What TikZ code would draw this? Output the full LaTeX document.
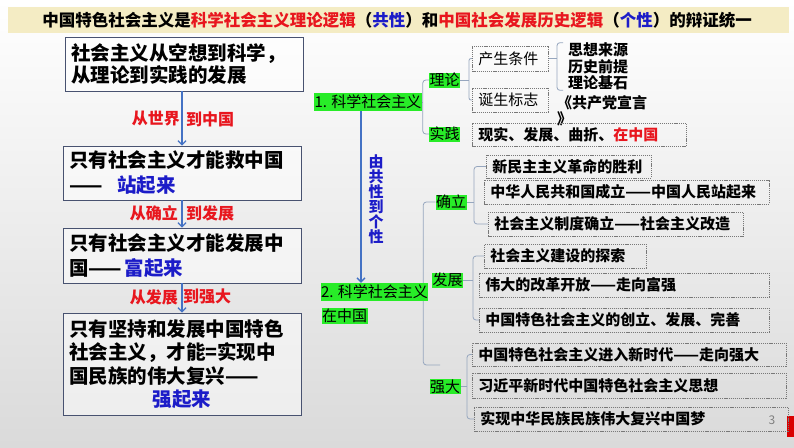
\documentclass[tikz,border=0pt]{standalone}
\usepackage{fontspec}
\setmainfont{Noto Sans CJK SC}
\usetikzlibrary{arrows.meta,calc}
\definecolor{tred}{RGB}{232,22,30}
\definecolor{tblue}{RGB}{28,28,200}
\definecolor{tgreen}{RGB}{40,236,40}
\definecolor{banner}{RGB}{244,236,196}
\definecolor{lboxc}{RGB}{72,82,112}
\definecolor{arrc}{RGB}{68,114,196}
\definecolor{brc}{RGB}{150,166,190}
\definecolor{dashc}{RGB}{120,120,120}
\pgfdeclarelayer{back}
\pgfdeclarelayer{bg}
\pgfsetlayers{back,bg,main}
\tikzset{
  lbox/.style={draw=lboxc, line width=0.8pt, fill=white, fill opacity=0.5, text opacity=1,
    align=left, inner xsep=6pt, inner ysep=0pt, minimum width=238pt},
  alab/.style={text=tred, inner sep=0pt, font=\bfseries\fontsize{16}{18}\selectfont},
  arr/.style={draw=arrc, line width=1.3pt, -{Straight Barb[length=4pt,width=8pt]}},
  glab/.style={fill=tgreen, inner xsep=0.5pt, inner ysep=0pt, minimum height=15pt,
    font=\fontsize{15}{16}\selectfont},
  dbox/.style={draw=dashc, line width=0.6pt, dash pattern=on 1.2pt off 0.9pt, anchor=west,
    align=left, inner xsep=6pt, inner ysep=0pt, font=\bfseries\fontsize{15}{16}\selectfont},
  br/.style={draw=brc, line width=0.8pt},
}
\begin{document}
\begin{tikzpicture}[x=1pt,y=-1pt]
\useasboundingbox (0,0) rectangle (794,447);
\begin{pgfonlayer}{back}
\shade[top color=white, bottom color={rgb,255:red,218;green,218;blue,218}] (0,0) rectangle (794,447);
\fill[banner] (8,7) rectangle (789,33);
\fill[red!85!black] (787,416) rectangle (794,437);
\end{pgfonlayer}

% title
\node[inner sep=0pt, font=\bfseries\fontsize{16.5}{18}\selectfont] (title) at (397,20)
  {中国特色社会主义是\textcolor{tred}{科学社会主义理论逻辑}（\textcolor{tblue}{共性}）和\textcolor{tred}{中国社会发展历史逻辑}（\textcolor{tblue}{个性}）的辩证统一};

% left column
\node[lbox, minimum height=54pt, text width=226pt, font=\bfseries\fontsize{19.5}{22}\selectfont] (b1) at (184,64)
  {社会主义从空想到科学，\\从理论到实践的发展};
\node[lbox, minimum height=54pt, text width=226pt, font=\bfseries\fontsize{19.5}{25}\selectfont] (b2) at (182,173)
  {只有社会主义才能救中国\\——\hspace{15pt}\textcolor{tblue}{站起来}};
\node[lbox, minimum height=55pt, text width=226pt, font=\bfseries\fontsize{19.5}{25}\selectfont] (b3) at (182,255.5)
  {只有社会主义才能发展中\\国——\hspace{3pt}\textcolor{tblue}{富起来}};
\node[lbox, minimum height=102pt, text width=226pt, font=\bfseries\fontsize{19.5}{23.5}\selectfont] (b4) at (182,364)
  {只有坚持和发展中国特色\\社会主义，才能=实现中\\国民族的伟大复兴——\\\makebox[226pt][c]{\textcolor{tblue}{强起来}}};

\draw[arr] (b1.south -| b2.north) -- (b2.north);
\draw[arr] (b2.south) -- (b3.north);
\draw[arr] (b3.south) -- (b4.north);
\node[alab, anchor=east] (l1a) at (180,119) {从世界};
\node[alab, anchor=west] (l1b) at (186,119) {到中国};
\node[alab, anchor=east] (l2a) at (178,213) {从确立};
\node[alab, anchor=west] (l2b) at (186,213) {到发展};
\node[alab, anchor=east] (l3a) at (178,297) {从发展};
\node[alab, anchor=west] (l3b) at (183,297) {到强大};

% middle
\node[glab, minimum height=18pt] (n1) at (368,102) {1. 科学社会主义};
\node[glab] (ll) at (444.5,80) {理论};
\node[glab] (sj) at (444.5,134) {实践};
\node[glab, minimum height=18pt] (n2) at (374.5,292) {2. 科学社会主义};
\node[glab, minimum height=16pt] (n2b) at (344.5,316) {在中国};
\node[text=tblue, align=center, inner sep=0pt, font=\bfseries\fontsize{15}{15}\selectfont] (gx) at (376,199.5)
  {由\\共\\性\\到\\个\\性};
\draw[arr] ([xshift=-7pt]n1.south) -- ([xshift=-7pt]n1.south |- n2.north);

% theory branch
\node[dbox, minimum width=76pt, minimum height=25pt, text width=64pt, font=\fontsize{15}{16}\selectfont] (cs) at (472,58.5) {产生条件};
\node[dbox, minimum width=76pt, minimum height=24pt, text width=64pt, font=\fontsize{15}{16}\selectfont] (dz) at (472,100) {诞生标志};
\node[align=left, inner xsep=5pt, inner ysep=0pt, anchor=west, font=\bfseries\fontsize{15}{16.5}\selectfont] (yl) at (563,66.5)
  {思想来源\\历史前提\\理论基石};
\node[align=left, inner sep=0pt, anchor=west, font=\bfseries\fontsize{15}{16}\selectfont] (xy) at (557,111)
  {《共产党宣言\\》};
\node[dbox, minimum width=214pt, minimum height=23pt, text width=202pt] (sjb) at (472,134.5)
  {现实、发展、曲折、\textcolor{tred}{在中国}};

% 确立
\node[glab] (ql) at (451,202) {确立};
\node[dbox, minimum width=165pt, minimum height=23pt, text width=153pt] (q1) at (486,166.5) {新民主主义革命的胜利};
\node[dbox, minimum width=285pt, minimum height=24pt, text width=273pt] (q2) at (484,192) {中华人民共和国成立——中国人民站起来};
\node[dbox, minimum width=255pt, minimum height=24pt, text width=243pt] (q3) at (488,224) {社会主义制度确立——社会主义改造};

% 发展
\node[glab] (fl) at (447.5,280) {发展};
\node[dbox, minimum width=162pt, minimum height=24pt, text width=150pt] (f1) at (484,256) {社会主义建设的探索};
\node[dbox, minimum width=290pt, minimum height=24pt, text width=278pt] (f2) at (479,285) {伟大的改革开放——走向富强};
\node[dbox, minimum width=290pt, minimum height=24pt, text width=278pt] (f3) at (479,320) {中国特色社会主义的创立、发展、完善};

% 强大
\node[glab] (sl) at (445,386.5) {强大};
\node[dbox, minimum width=314pt, minimum height=23pt, text width=302pt] (s1) at (472,354.5) {中国特色社会主义进入新时代——走向强大};
\node[dbox, minimum width=314pt, minimum height=25pt, text width=302pt] (s2) at (472,385.5) {习近平新时代中国特色社会主义思想};
\node[dbox, minimum width=314pt, minimum height=24pt, text width=302pt] (s3) at (474,419) {实现中华民族民族伟大复兴中国梦};

\node[text=gray, inner sep=0pt, font=\fontsize{12}{12}\selectfont] (pg) at (772,420) {3};

% brackets
\begin{pgfonlayer}{bg}
\path (ll.west) ++(-6,0) coordinate (n1v);
\draw[br, rounded corners=3pt] (ll.west) -- (n1v) |- (sj.west);
\draw[br] (n1.east) -- (n1.east -| n1v);

\path (cs.west) ++(-3,0) coordinate (llv);
\draw[br, rounded corners=2pt] (cs.west) -- (llv) |- (dz.west);
\draw[br] (ll.east) -- (ll.east -| llv);

\path (yl.west) ++(-6,0) coordinate (ylv);
\draw[br, rounded corners=3pt] (yl.north west) -- (yl.north west -| ylv) |- (yl.south west);
\draw[br] (cs.east) -- (cs.east -| ylv);

\path (q1.west) ++(-12,0) coordinate (qv);
\draw[br, rounded corners=3pt] (q1.west) -- (qv) |- (q3.west);
\draw[br] (ql.east) -- (ql.east -| qv);

\path (f1.west) ++(-11,0) coordinate (fv);
\draw[br, rounded corners=3pt] (f1.west) -- (fv) |- (f3.west);
\draw[br] (fl.east) -- (fl.east -| fv);

\path (s1.west) ++(-5,0) coordinate (sv);
\draw[br, rounded corners=3pt] (s1.west) -- (sv) |- (s3.west);
\draw[br] (sl.east) -- (sl.east -| sv);

\path (ql.west) ++(-12,0) coordinate (n2v);
\coordinate (n2end) at (440,365);
\draw[br, rounded corners=3pt] (ql.west) -- (n2v) |- (n2end);
\end{pgfonlayer}
\end{tikzpicture}
\end{document}
